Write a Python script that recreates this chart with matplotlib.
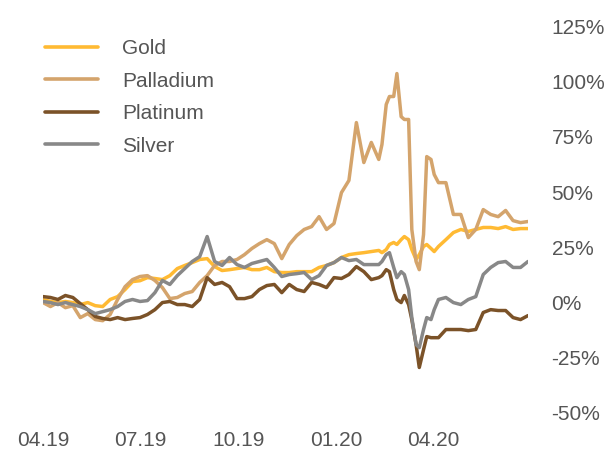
import matplotlib
matplotlib.use("Agg")
import matplotlib.pyplot as plt
import matplotlib.dates as mdates
from matplotlib.ticker import FixedLocator, FuncFormatter
import pandas as pd

# ---- data (% change since start of April 2019) ----
weekly = pd.date_range("2019-04-01", periods=66, freq="7D")
extra = weekly[45:53] + pd.Timedelta(days=3)
dates = weekly.append(extra).sort_values()

gold = [1.4, 0.5, 0, 0.5, 0, -0.9, 0, -1.4, -1.8, 1.4, 2.7, 5.9, 9.5, 9.9, 11.3, 10.9,
        10.4, 12.2, 15.4, 16.8, 18.1, 19.5, 19.9, 16.3, 14.5, 14.9, 15.4, 15.9, 14.9, 14.9,
        15.9, 14.0, 13.6, 13.6, 14.0, 14.0, 14.0, 15.9, 16.8, 18.1, 20.4, 21.7, 22.2, 22.6,
        23.1, 23.6, 22.6, 24.0, 26.3, 27.2, 26.3, 28.5, 29.9, 28.5, 24.0, 19.5, 21.7, 25.4,
        26.3, 24.5, 23.1, 25.4, 28.5, 31.7, 33.1, 32.2, 33.1, 34.0, 34.0, 33.5, 34.4, 33.1,
        33.5, 33.5]

palladium = [0, -1.8, 0, -2.3, -1.4, -6.8, -5.0, -7.7, -8.2, -5.4, 1.4, 7.2, 10.4, 11.8,
             12.2, 10.0, 6.8, 1.8, 2.3, 4.1, 5.0, 9.1, 12.2, 16.8, 18.6, 18.6, 19.5, 21.7,
             24.5, 26.7, 28.5, 26.7, 19.9, 26.3, 30.3, 33.1, 34.4, 38.9, 33.1, 35.8, 49.8,
             55.3, 81.5, 63.4, 72.5, 64.8, 71.6, 89.7, 93.3, 93.3, 103.7, 84.2, 82.9, 82.9,
             33.1, 18.6, 14.9, 30.8, 66.1, 64.8, 58.0, 54.3, 54.3, 39.9, 39.9, 29.4, 33.1,
             42.1, 39.9, 38.9, 41.7, 37.1, 36.2, 36.7]

platinum = [2.7, 2.3, 1.4, 3.2, 2.3, -0.5, -3.2, -6.3, -7.2, -7.7, -6.8, -7.7, -7.2, -6.8,
            -5.4, -3.2, 0, 0.5, -0.9, -0.9, -1.8, 1.4, 11.3, 8.2, 9.1, 7.2, 1.8, 1.8, 2.7,
            5.9, 7.7, 8.2, 4.5, 8.2, 5.9, 5.0, 9.1, 8.2, 6.8, 11.3, 10.9, 12.7, 16.3, 14.0,
            10.4, 11.3, 12.2, 14.9, 14.0, 5.9, 1.4, 0, 3.2, -0.9, -7.7, -19.0, -29.4, -21.3,
            -15.4, -15.9, -15.9, -15.9, -12.2, -12.2, -12.2, -12.7, -12.2, -4.5, -3.2, -3.6,
            -3.6, -6.8, -7.7, -5.9]

silver = [0.5, 0, -0.9, 0, -0.9, -1.8, -3.2, -5.0, -4.1, -3.2, -1.8, 0.5, 1.4, 0.5, 0.9,
          4.5, 10.0, 8.2, 12.2, 15.4, 18.6, 20.8, 29.9, 18.6, 16.8, 20.4, 17.2, 15.9, 17.7,
          18.6, 19.5, 15.9, 11.8, 12.7, 13.1, 13.6, 10.4, 12.2, 16.8, 18.1, 20.4, 19.0, 19.5,
          17.2, 17.2, 17.2, 18.6, 21.7, 22.6, 15.9, 11.3, 14.0, 12.7, 5.9, -6.8, -19.0,
          -20.4, -12.2, -6.8, -7.7, -3.2, 1.4, 2.3, 0, -0.9, 1.4, 2.7, 12.7, 15.9, 18.1,
          18.6, 15.9, 15.9, 18.6]

series_names = ["Gold", "Palladium", "Platinum", "Silver"]
series_values = [gold, palladium, platinum, silver]
series_colors = ["#FFBA33", "#D4A46C", "#7B5228", "#888888"]

y_ticks = [-50, -25, 0, 25, 50, 75, 100, 125]
x_ticks = ["2019-04-01", "2019-07-01", "2019-10-01", "2020-01-01", "2020-04-01"]

# ---- figure ----
W, H = 609, 455
fig = plt.figure(figsize=(W / 100, H / 100), dpi=100)
plt.rcParams["font.family"] = ["Liberation Sans", "DejaVu Sans"]
text_color = "#555555"

left, right, top, bottom = 43, 528, 26.5, 413
ax = fig.add_axes([left / W, 1 - bottom / H, (right - left) / W, (bottom - top) / H])

for name, vals, col in zip(series_names, series_values, series_colors):
    ax.plot(dates, vals, color=col, lw=2.5, label=name, solid_capstyle="round",
            solid_joinstyle="round")

ax.set_ylim(-50, 125)
ax.set_xlim(pd.Timestamp("2019-04-01"), pd.Timestamp("2020-06-29"))
for s in ax.spines.values():
    s.set_visible(False)

ax.yaxis.tick_right()
ax.yaxis.set_major_locator(FixedLocator(y_ticks))
ax.yaxis.set_major_formatter(FuncFormatter(lambda v, p: f"{int(v)}%"))
ax.set_xticks([pd.Timestamp(d) for d in x_ticks])
ax.xaxis.set_major_formatter(mdates.DateFormatter("%m.%y"))
ax.tick_params(axis="both", length=0, labelsize=15, colors=text_color)
ax.tick_params(axis="y", pad=17)
ax.tick_params(axis="x", pad=13)
for lab in ax.get_yticklabels():
    lab.set_horizontalalignment("left")

leg = ax.legend(loc="upper left", bbox_to_anchor=(45 / W, 1 - 39 / H),
                bbox_transform=fig.transFigure, frameon=False, fontsize=15,
                handlelength=2.55, handletextpad=1.15, labelspacing=0.65,
                borderpad=0, borderaxespad=0)
for t in leg.get_texts():
    t.set_color(text_color)
for l in leg.get_lines():
    l.set_linewidth(2.6)

fig.savefig("out.png", dpi=100)
